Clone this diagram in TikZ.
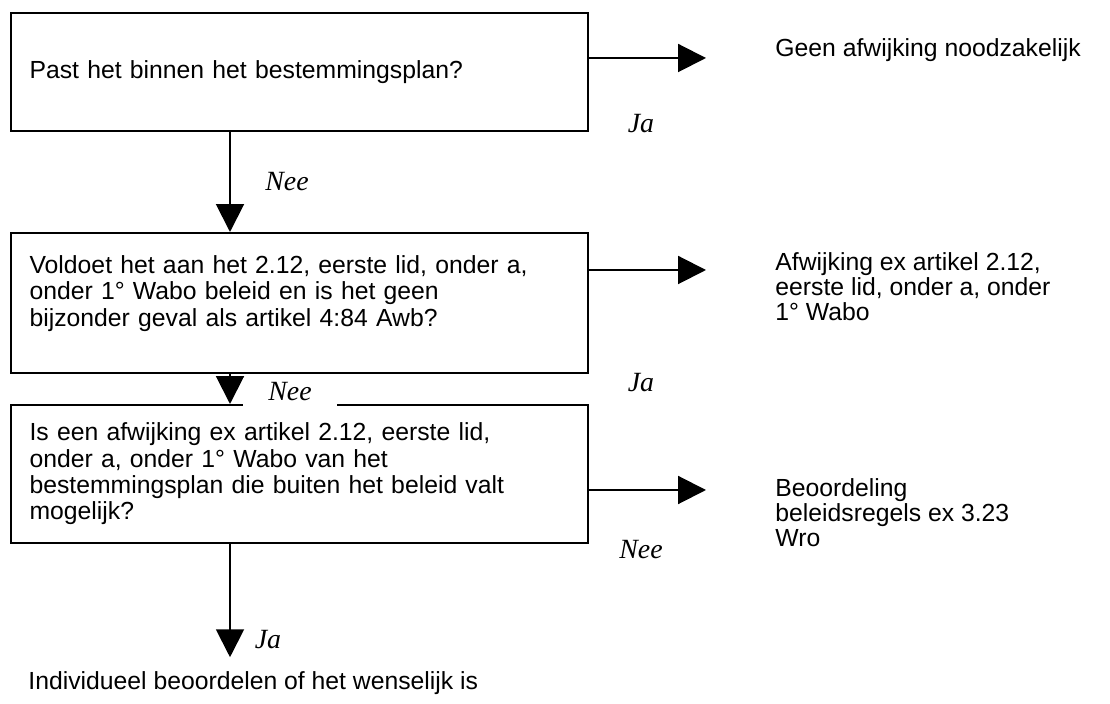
\documentclass[tikz,border=0pt]{standalone}
\usepackage{fontspec}
\setmainfont{Liberation Sans}
\newfontfamily\labelfont{Liberation Serif}
\usetikzlibrary{arrows.meta}

\begin{document}
\begin{tikzpicture}[x=0.485pt, y=-0.485pt,
  vraag/.style={draw, line width=1pt, anchor=north west, align=left,
    text width=262pt, inner xsep=9pt, font=\fontsize{12}{12.8}\selectfont},
  uitkomst/.style={anchor=west, align=left, inner sep=0pt,
    font=\fontsize{12}{12.2}\selectfont},
  antwoord/.style={font=\fontsize{13.5}{14}\selectfont\labelfont\itshape, inner sep=1pt},
  pijl/.style={line width=1pt, -{Triangle[length=13.5pt, width=13.5pt]}}
]

% Kader van de figuur
\useasboundingbox (0,0) rectangle (1110,704);

% Vragen
\node[vraag, minimum height=57.2pt] (vraag1) at (10,12)
  {Past het binnen het bestemmingsplan?};
\node[vraag, minimum height=67.9pt] (vraag2) at (10,232)
  {Voldoet het aan het 2.12, eerste lid, onder a,\\ onder 1° Wabo beleid en is het geen\\ bijzonder geval als artikel 4:84 Awb?\rule[-12pt]{0pt}{12pt}};
\node[vraag, minimum height=66.9pt] (vraag3) at (10,404)
  {Is een afwijking ex artikel 2.12, eerste lid,\\ onder a, onder 1° Wabo van het\\ bestemmingsplan die buiten het beleid valt\\ mogelijk?};

% Uitkomsten
\node[uitkomst] (geen) at (775,50) {Geen afwijking noodzakelijk};
\node[uitkomst] (afwijking) at (775,287) {Afwijking ex artikel 2.12,\\ eerste lid, onder a, onder\\ 1° Wabo};
\node[uitkomst] (beoordeling) at (775,513) {Beoordeling\\ beleidsregels ex 3.23\\ Wro};
\node[uitkomst, anchor=base west] (einde) at (28,690) {Individueel beoordelen of het wenselijk is};

% Pijlen naar beneden
\coordinate (as) at (230,0);
\draw[pijl] (vraag1.south -| as) -- (vraag2.north -| as);
\draw[pijl] (vraag2.south -| as) -- (vraag3.north -| as);
\draw[pijl, shorten >=7pt] (vraag3.south -| as) -- (einde.north -| as);

% Pijlen naar rechts
\coordinate (doel1) at (706,58);
\coordinate (doel2) at (706,270);
\coordinate (doel3) at (706,490);
\draw[pijl] (vraag1.east |- doel1) -- (doel1);
\draw[pijl] (vraag2.east |- doel2) -- (doel2);
\draw[pijl] (vraag3.east |- doel3) -- (doel3);

% Antwoorden
\node[antwoord] (nee1) at (287,182) {Nee};
\node[antwoord] (ja1) at (641,124) {Ja};
\node[antwoord] (ja2) at (641,383) {Ja};
\node[antwoord, fill=white, minimum width=46pt, minimum height=14pt] (nee2) at (290,392) {Nee};
\node[antwoord] (nee3) at (641,550) {Nee};
\node[antwoord] (ja3) at (268,640) {Ja};

\end{tikzpicture}
\end{document}
